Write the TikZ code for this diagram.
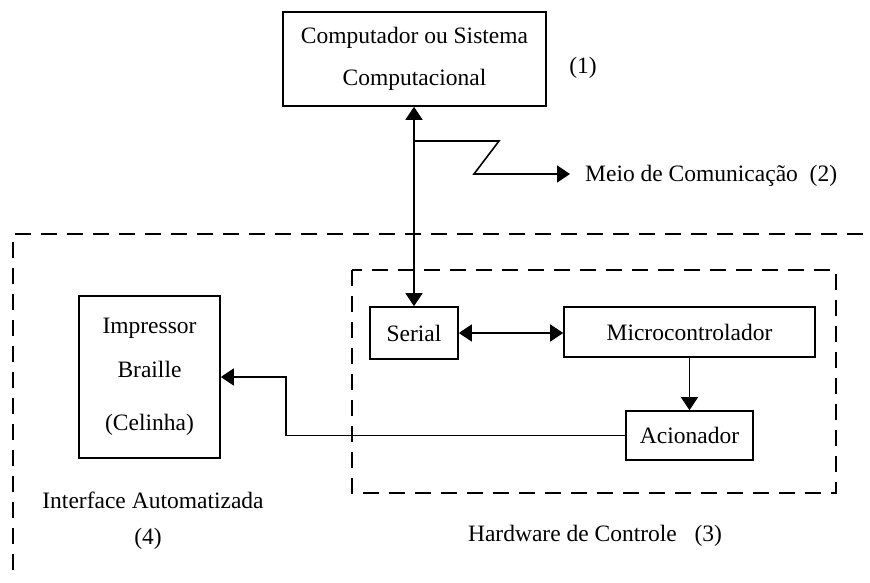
\documentclass[tikz,border=0pt]{standalone}
\usepackage{fontspec}
\setmainfont{Liberation Serif}
\usetikzlibrary{arrows.meta}
\begin{document}
\begin{tikzpicture}[x=1pt,y=-1pt,
  txt/.style={font=\fontsize{23.5}{42}\selectfont, inner sep=0pt},
  block/.style={draw, line width=1.7pt, inner sep=0pt, align=center,
    font=\fontsize{23.5}{42}\selectfont},
  link/.style={line width=1.6pt},
  tip/.style={-{Triangle[length=13pt,width=17pt]}},
  bitip/.style={{Triangle[length=13pt,width=17pt]}-{Triangle[length=13pt,width=17pt]}},
  frame/.style={line width=1.7pt, dash pattern=on 16pt off 10pt}]
\useasboundingbox (0,0) rectangle (870,583);

% blocks
\node[block, minimum width=263pt, minimum height=94pt] (comp) at (414.5,59)
  {Computador ou Sistema\\Computacional};
\node[block, minimum width=88pt, minimum height=52pt] (serial) at (414,333) {Serial};
\node[block, minimum width=251pt, minimum height=50pt] (micro) at (689.5,332) {Microcontrolador};
\node[block, minimum width=127pt, minimum height=49pt] (acion) at (689.5,435.5) {Acionador};
\node[block, minimum width=141pt, minimum height=162pt,
  font=\fontsize{23.5}{44}\selectfont] (imp) at (149.5,377)
  {Impressor\\Braille\\[9pt](Celinha)};

% dashed frames
\draw[frame] (13,570) -- (13,234) -- (870,234);
\draw[frame] (352,270) rectangle (836,493);

% labels
\node[txt] (l1) at (583,68) {(1)};
\node[txt, anchor=west] (l2) at (585,176) {Meio de Comunica\c{c}\~ao\ \ (2)};
\node[txt] (l3) at (595,536) {Hardware de Controle\ \ \ (3)};
\node[txt] (l4a) at (153,500) {Interface Automatizada};
\node[txt] (l4b) at (148,539) {(4)};

% connectors
\draw[link, bitip] (comp.south -| serial.north) -- (serial.north);
\coordinate (z0) at (serial.north |- 0,141);
\coordinate (m) at (570,174);
\draw[link, tip] (z0) -- (499,141) -- (474,174) -- (m);
\draw[link, bitip] (serial.east) -- (micro.west |- serial.east);
\draw[link, tip] (micro.south) -- (acion.north);
\draw[link, tip] (acion.west) -- ++(-339,0) |- (imp.east);
\end{tikzpicture}
\end{document}
